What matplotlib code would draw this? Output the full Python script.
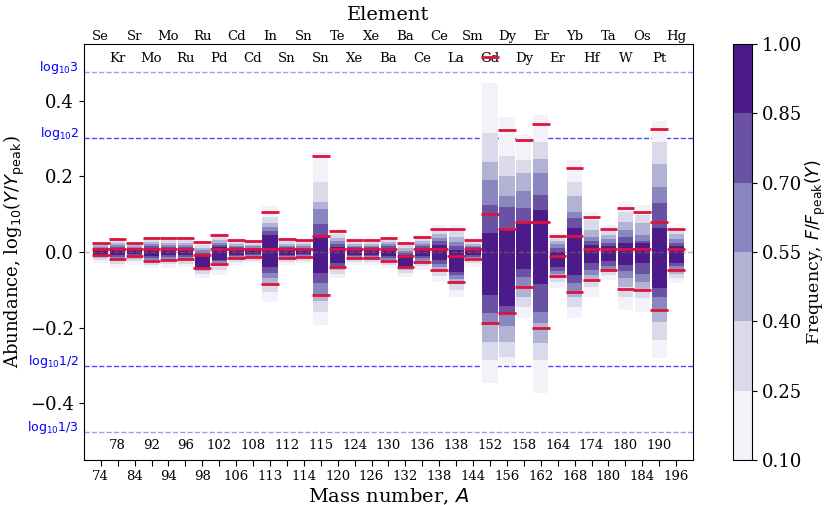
import matplotlib
matplotlib.use("Agg")
import matplotlib.pyplot as plt
import numpy as np
from matplotlib.colors import ListedColormap, BoundaryNorm
from matplotlib.cm import ScalarMappable
import matplotlib.transforms as mtrans

plt.rcParams['font.family'] = 'DejaVu Serif'
plt.rcParams['mathtext.fontset'] = 'dejavusans'

mass = [74, 78, 84, 92, 94, 96, 98, 102, 106, 108, 113, 112, 114, 115, 120, 124, 126,
        130, 132, 136, 138, 138, 144, 152, 156, 158, 162, 164, 168, 174, 180, 180, 184, 190, 196]
elem = ['Se', 'Kr', 'Sr', 'Mo', 'Mo', 'Ru', 'Ru', 'Pd', 'Cd', 'Cd', 'In', 'Sn', 'Sn', 'Sn', 'Te', 'Xe', 'Xe',
        'Ba', 'Ba', 'Ce', 'Ce', 'La', 'Sm', 'Gd', 'Dy', 'Dy', 'Er', 'Er', 'Yb', 'Hf', 'Ta', 'W', 'Os', 'Pt', 'Hg']

# frequency bands: y range where F/Fpeak exceeds each level
lo10 = [-0.030, -0.043, -0.034, -0.043, -0.043, -0.041, -0.070, -0.061, -0.034, -0.030, -0.132, -0.034, -0.030,
        -0.193, -0.070, -0.034, -0.034, -0.043, -0.065, -0.048, -0.079, -0.118, -0.039, -0.348, -0.300, -0.176,
        -0.374, -0.096, -0.176, -0.118, -0.074, -0.154, -0.158, -0.282, -0.083]
hi10 = [0.027, 0.038, 0.027, 0.041, 0.040, 0.040, 0.027, 0.049, 0.036, 0.032, 0.122, 0.036, 0.034, 0.266, 0.060,
        0.036, 0.034, 0.041, 0.027, 0.045, 0.072, 0.072, 0.036, 0.447, 0.357, 0.310, 0.363, 0.049, 0.244, 0.107,
        0.072, 0.133, 0.125, 0.347, 0.069]
lo25 = [-0.022, -0.032, -0.025, -0.034, -0.033, -0.031, -0.058, -0.048, -0.026, -0.023, -0.105, -0.026, -0.023,
        -0.158, -0.057, -0.026, -0.026, -0.034, -0.055, -0.038, -0.063, -0.100, -0.030, -0.286, -0.277, -0.145,
        -0.286, -0.080, -0.145, -0.092, -0.062, -0.118, -0.123, -0.233, -0.068]
hi25 = [0.022, 0.031, 0.022, 0.033, 0.032, 0.032, 0.018, 0.040, 0.028, 0.025, 0.094, 0.028, 0.026, 0.186, 0.048,
        0.028, 0.027, 0.033, 0.018, 0.036, 0.058, 0.055, 0.028, 0.314, 0.253, 0.244, 0.292, 0.040, 0.186, 0.085,
        0.058, 0.107, 0.098, 0.290, 0.058]
lo40 = [-0.016, -0.024, -0.018, -0.027, -0.025, -0.024, -0.050, -0.038, -0.020, -0.017, -0.083, -0.020, -0.017,
        -0.129, -0.048, -0.020, -0.020, -0.027, -0.049, -0.030, -0.050, -0.085, -0.023, -0.238, -0.238, -0.118,
        -0.242, -0.068, -0.120, -0.074, -0.054, -0.092, -0.101, -0.185, -0.057]
hi40 = [0.018, 0.024, 0.018, 0.026, 0.025, 0.025, 0.010, 0.032, 0.022, 0.019, 0.076, 0.022, 0.020, 0.133, 0.038,
        0.022, 0.021, 0.026, 0.010, 0.028, 0.047, 0.040, 0.022, 0.239, 0.202, 0.208, 0.246, 0.030, 0.147, 0.058,
        0.045, 0.080, 0.076, 0.232, 0.047]
lo55 = [-0.012, -0.018, -0.013, -0.020, -0.019, -0.018, -0.045, -0.030, -0.015, -0.013, -0.070, -0.015, -0.013,
        -0.114, -0.041, -0.015, -0.015, -0.020, -0.045, -0.023, -0.040, -0.072, -0.017, -0.193, -0.196, -0.090,
        -0.189, -0.058, -0.105, -0.060, -0.045, -0.070, -0.079, -0.154, -0.048]
hi55 = [0.014, 0.019, 0.014, 0.020, 0.019, 0.019, 0.004, 0.025, 0.017, 0.015, 0.065, 0.017, 0.015, 0.114, 0.029,
        0.017, 0.016, 0.020, 0.003, 0.022, 0.037, 0.027, 0.017, 0.191, 0.148, 0.162, 0.208, 0.020, 0.107, 0.040,
        0.035, 0.058, 0.045, 0.173, 0.035]
lo70 = [-0.009, -0.013, -0.009, -0.015, -0.014, -0.013, -0.042, -0.025, -0.011, -0.009, -0.056, -0.011, -0.009,
        -0.083, -0.036, -0.011, -0.011, -0.015, -0.042, -0.017, -0.031, -0.062, -0.012, -0.162, -0.162, -0.067,
        -0.158, -0.050, -0.083, -0.048, -0.036, -0.050, -0.057, -0.118, -0.037]
hi70 = [0.011, 0.014, 0.011, 0.015, 0.014, 0.014, -0.002, 0.019, 0.013, 0.011, 0.056, 0.013, 0.011, 0.073, 0.021,
        0.013, 0.012, 0.015, -0.003, 0.017, 0.028, 0.015, 0.013, 0.125, 0.120, 0.117, 0.151, 0.010, 0.089, 0.030,
        0.025, 0.040, 0.030, 0.131, 0.025]
lo85 = [-0.006, -0.009, -0.006, -0.010, -0.009, -0.009, -0.039, -0.021, -0.007, -0.006, -0.039, -0.007, -0.006,
        -0.055, -0.030, -0.007, -0.007, -0.010, -0.039, -0.011, -0.022, -0.052, -0.008, -0.114, -0.143, -0.045,
        -0.085, -0.039, -0.061, -0.030, -0.025, -0.034, -0.030, -0.096, -0.030]
hi85 = [0.008, 0.009, 0.008, 0.010, 0.009, 0.009, -0.008, 0.014, 0.009, 0.008, 0.045, 0.009, 0.008, 0.042, 0.014,
        0.009, 0.009, 0.010, -0.008, 0.011, 0.019, 0.005, 0.009, 0.049, 0.058, 0.080, 0.111, 0.001, 0.063, 0.019,
        0.015, 0.023, 0.023, 0.063, 0.015]

# red markers
red_hi = [0.024, 0.034, 0.024, 0.038, 0.036, 0.036, 0.026, 0.045, 0.032, 0.029, 0.106, 0.034, 0.031, 0.253, 0.056,
          0.032, 0.031, 0.037, 0.024, 0.041, 0.062, 0.061, 0.033, 0.517, 0.323, 0.297, 0.338, 0.042, 0.222, 0.094,
          0.061, 0.117, 0.105, 0.325, 0.061]
red_mid = [0.008, 0.008, 0.008, 0.008, 0.008, 0.008, -0.008, 0.008, 0.008, 0.008, 0.008, 0.008, 0.008, 0.042, 0.008,
           0.008, 0.008, 0.008, -0.010, 0.008, 0.008, -0.010, 0.008, 0.100, 0.061, 0.080, 0.080, -0.010, 0.042, 0.008,
           0.008, 0.008, 0.008, 0.079, 0.008]
red_lo = [-0.008, -0.019, -0.011, -0.025, -0.021, -0.019, -0.043, -0.032, -0.015, -0.012, -0.085, -0.015, -0.012,
          -0.114, -0.041, -0.016, -0.016, -0.023, -0.041, -0.026, -0.047, -0.080, -0.018, -0.189, -0.162, -0.094,
          -0.202, -0.063, -0.105, -0.074, -0.048, -0.099, -0.101, -0.154, -0.049]

levels = [0.10, 0.25, 0.40, 0.55, 0.70, 0.85, 1.00]
band_lo = [lo10, lo25, lo40, lo55, lo70, lo85]
band_hi = [hi10, hi25, hi40, hi55, hi70, hi85]

mids = (np.array(levels[:-1]) + np.array(levels[1:])) / 2
cols = plt.get_cmap('Purples')((mids - levels[0]) / (levels[-1] - levels[0]))
cmap = ListedColormap(cols)
norm = BoundaryNorm(levels, cmap.N)

fig = plt.figure(figsize=(8.3, 5.05), dpi=100)
ax = fig.add_axes([0.101, 0.089, 0.734, 0.824])
cax = fig.add_axes([0.883, 0.089, 0.023, 0.824])

x = np.arange(len(mass))
for k in range(6):
    lo = np.array(band_lo[k])
    hi = np.array(band_hi[k])
    ax.bar(x, hi - lo, bottom=lo, width=0.9, color=cols[k], zorder=2)

for vals in (red_hi, red_mid, red_lo):
    ax.hlines(vals, x - 0.52, x + 0.52, colors='#dc143c', lw=2, zorder=5)

ax.axhline(0, color='grey', ls='--', lw=1, alpha=0.5, zorder=3)
ref = [(np.log10(3), r'log$_{10}$3', 0.4), (np.log10(2), r'log$_{10}$2', 0.7),
       (np.log10(0.5), r'log$_{10}$1/2', 0.7), (np.log10(1 / 3), r'log$_{10}$1/3', 0.4)]
tr = mtrans.blended_transform_factory(ax.transAxes, ax.transData)
for val, lab, al in ref:
    ax.axhline(val, color='blue', ls='--', lw=1, alpha=al, zorder=1)
    ax.text(-0.008, val + 0.012, lab, transform=tr, ha='right', va='center',
            color='blue', fontsize=9, family='DejaVu Sans')

ax.set_xlim(-1, len(mass))
ax.set_ylim(-0.551, 0.551)
ax.set_yticks([-0.4, -0.2, 0.0, 0.2, 0.4])
ax.tick_params(axis='y', labelsize=13)
ax.set_xticks(x)
ax.set_xticklabels([str(m) if i % 2 == 0 else '' for i, m in enumerate(mass)], fontsize=9.5)
ax.tick_params(axis='x', length=4)

trx = mtrans.blended_transform_factory(ax.transData, ax.transAxes)
for i in x:
    if i % 2 == 1:
        ax.text(i, 0.035, str(mass[i]), transform=trx, ha='center', va='center', fontsize=9.5)
        ax.text(i, 0.965, elem[i], transform=trx, ha='center', va='center', fontsize=9.5)
    else:
        ax.text(i, 1.018, elem[i], transform=trx, ha='center', va='center', fontsize=9.5)

ax.set_xlabel('Mass number, $A$', fontsize=14, labelpad=2)
ax.set_ylabel(r'Abundance, log$_{10}$($Y/Y_{\rm peak}$)', fontsize=13)
ax.yaxis.set_label_coords(-0.094, 0.5)
ax.set_title('Element', fontsize=14, pad=17)

cb = fig.colorbar(ScalarMappable(norm=norm, cmap=cmap), cax=cax, ticks=levels)
cb.ax.set_yticklabels(['%.2f' % l for l in levels])
cb.ax.tick_params(labelsize=13)
cb.set_label(r'Frequency, $F/F_{\rm peak}(Y)$', fontsize=12.5, labelpad=1)

fig.savefig('out.png', dpi=100)
